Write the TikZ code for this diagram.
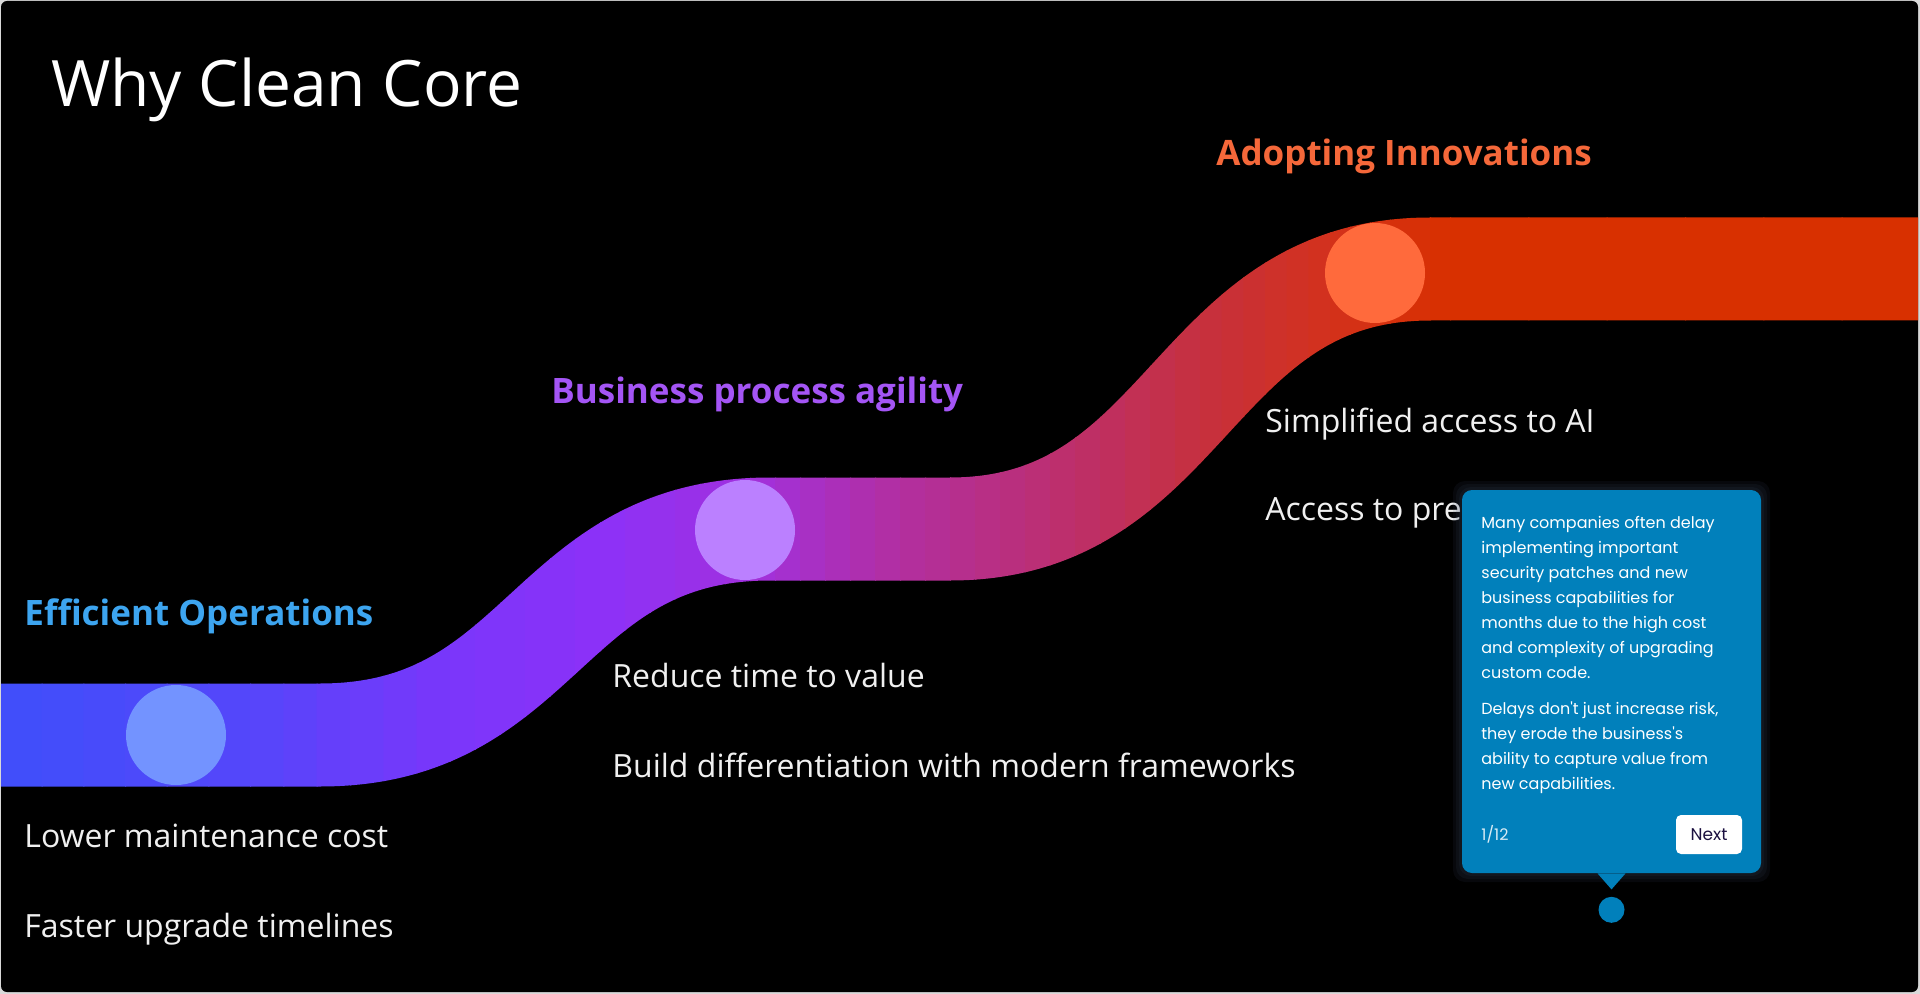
\documentclass[tikz,border=0pt]{standalone}
\usepackage{fontspec}
\setmainfont{Open Sans}
\newfontfamily\tipfont{Poppins}
\usetikzlibrary{positioning}

\definecolor{frame}{HTML}{D9D9D9}
\definecolor{opsblue}{HTML}{3DA5F0}
\definecolor{bizpurple}{HTML}{A455F5}
\definecolor{innoorange}{HTML}{F5683A}
\definecolor{dotone}{HTML}{7393FF}
\definecolor{dottwo}{HTML}{BB80FF}
\definecolor{dotthree}{HTML}{FF6A3C}
\definecolor{tipblue}{HTML}{0180BB}
\definecolor{tipglow}{HTML}{3A4A66}
\definecolor{tipnavy}{HTML}{1B1040}
% ribbon colour stops
\definecolor{rb0}{HTML}{3F4FFA}
\definecolor{rb1}{HTML}{5546FA}
\definecolor{rb2}{HTML}{7A36FA}
\definecolor{rb3}{HTML}{8C31F8}
\definecolor{rb4}{HTML}{A130DE}
\definecolor{rb5}{HTML}{B22FA0}
\definecolor{rb6}{HTML}{BC2F72}
\definecolor{rb7}{HTML}{C6303F}
\definecolor{rb8}{HTML}{D3311C}
\definecolor{rb9}{HTML}{D83000}

\tikzset{
  pagetitle/.style={anchor=base west, inner sep=0, text=white, font=\fontsize{32}{38}\selectfont},
  heading/.style={anchor=base west, inner sep=0, font=\fontsize{17.5}{21}\selectfont\bfseries},
  bullet/.style={anchor=base west, inner sep=0, text=white!94!black, font=\fontsize{16}{19}\selectfont},
  milestone/.style={circle, inner sep=0, minimum size=50pt},
  tipbox/.style={rounded corners=5pt, fill=tipblue, minimum width=149.5pt, minimum height=191.5pt, inner sep=0},
  tiptext/.style={anchor=base west, inner sep=0, text=white, align=left, font=\tipfont\fontsize{8}{12.5}\selectfont},
  nextbtn/.style={rounded corners=2.5pt, fill=white, text=tipnavy, minimum width=33pt, minimum height=19.5pt, inner sep=0, font=\tipfont\fontsize{8.5}{10}\selectfont}
}

\begin{document}
\begin{tikzpicture}[x=0.5pt, y=-0.5pt]
  \useasboundingbox (0,0) rectangle (1920,994);
  \fill[frame] (0,0) rectangle (1920,994);
  \fill[black, rounded corners=3pt] (1,1) rectangle (1918,992);

  % ribbon, painted strip by strip
  \begin{scope}
    \clip[rounded corners=3pt] (1,1) rectangle (1918,992);
    \foreach \xa/\xb/\ca/\cb in {0/250/rb0/rb1, 250/450/rb1/rb2, 450/600/rb2/rb3, 600/750/rb3/rb4,
        750/900/rb4/rb5, 900/1050/rb5/rb6, 1050/1200/rb6/rb7, 1200/1330/rb7/rb8, 1330/1450/rb8/rb9, 1450/1920/rb9/rb9}{
      \foreach \k in {0,...,5}{
        \pgfmathsetmacro\xl{\xa+(\xb-\xa)*\k/6}
        \pgfmathsetmacro\xr{\xa+(\xb-\xa)*(\k+1)/6+1}
        \pgfmathtruncatemacro\pc{100-(\k+0.5)*100/6}
        \begin{scope}
          \clip (\xl,0) rectangle (\xr,994);
          \draw[line width=51.5pt, draw=\ca!\pc!\cb] (-20,735) -- (320,735)
            .. controls (545,735) and (545,529) .. (770,529) -- (950,529)
            .. controls (1190,529) and (1190,269) .. (1430,269) -- (1940,269);
        \end{scope}
      }
    }
  \end{scope}

  \node[milestone, fill=dotone] (ops) at (176,735) {};
  \node[milestone, fill=dottwo] (biz) at (745,530) {};
  \node[milestone, fill=dotthree] (inno) at (1375,273) {};

  \node[pagetitle] (title) at (51,107) {Why Clean Core};

  \node[heading, text=opsblue] (opshead) at (24,625) {Efficient Operations};
  \node[bullet] (opsone) at (24,847) {Lower maintenance cost};
  \node[bullet] (opstwo) at (24,937) {Faster upgrade timelines};

  \node[heading, text=bizpurple] (bizhead) at (551,403) {Business process agility};
  \node[bullet] (bizone) at (612,687) {Reduce time to value};
  \node[bullet] (biztwo) at (612,777) {Build differentiation with modern frameworks};

  \node[heading, text=innoorange] (innohead) at (1216,166) {Adopting Innovations};
  \node[bullet] (innoone) at (1265,432) {Simplified access to AI};
  \node[bullet] (innotwo) at (1265,520) {Access to pre};

  % tooltip
  \foreach \g in {3,6,9}
    \fill[tipglow, opacity=0.12, rounded corners=6pt] (1462-\g,490-\g) rectangle (1761+\g,873+\g);
  \node[tipbox] (tip) at (1611.5,681.5) {};
  \fill[tipblue] ([xshift=-7pt]tip.south) -- ([xshift=7pt]tip.south) -- ([yshift=-8pt]tip.south) -- cycle;
  \node[circle, fill=tipblue, minimum size=13pt, inner sep=0, below=11.5pt of tip.south] (tipdot) {};
  \node[tiptext] (tipbody) at (1481,789) {Many companies often delay\\
    implementing important\\
    security patches and new\\
    business capabilities for\\
    months due to the high cost\\
    and complexity of upgrading\\
    custom code.\\[5.5pt]
    Delays don't just increase risk,\\
    they erode the business's\\
    ability to capture value from\\
    new capabilities.};
  \node[anchor=base west, inner sep=0, text=white!85!tipblue, font=\tipfont\fontsize{8}{10}\selectfont] (count) at (1481,840) {1/12};
  \node[nextbtn] (next) at (1709,834.5) {Next};
\end{tikzpicture}
\end{document}
